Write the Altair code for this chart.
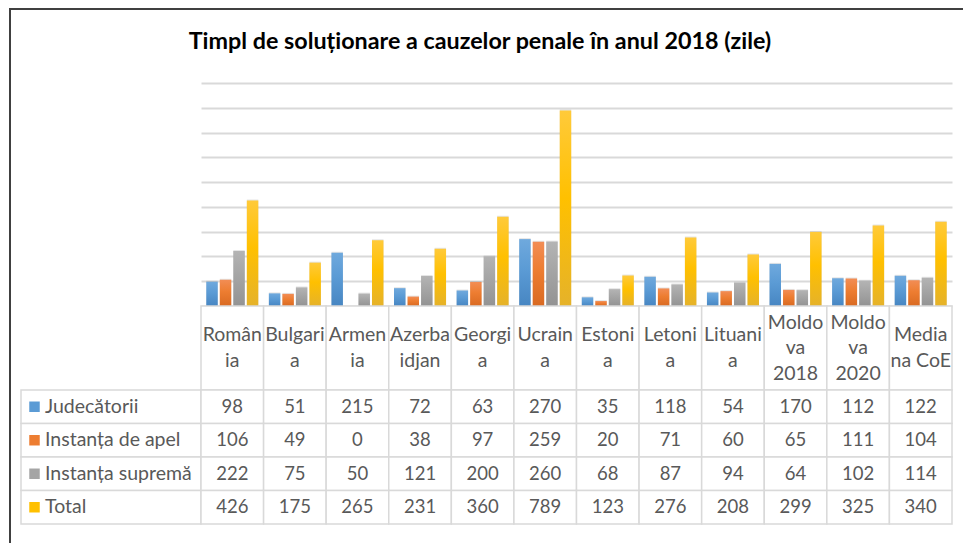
import altair as alt
import pandas as pd

title_text = "Timpl de soluționare a cauzelor penale în anul 2018 (zile)"
categories = ["România", "Bulgaria", "Armenia", "Azerbaidjan", "Georgia", "Ucraina",
              "Estonia", "Letonia", "Lituania", "Moldova 2018", "Moldova 2020", "Mediana CoE"]
header_labels = ["Român\nia", "Bulgari\na", "Armen\nia", "Azerba\nidjan", "Georgi\na", "Ucrain\na",
                 "Estoni\na", "Letoni\na", "Lituani\na", "Moldo\nva\n2018", "Moldo\nva\n2020", "Media\nna CoE"]
series = ["Judecătorii", "Instanța de apel", "Instanța supremă", "Total"]
judecatorii = [98, 51, 215, 72, 63, 270, 35, 118, 54, 170, 112, 122]
apel = [106, 49, 0, 38, 97, 259, 20, 71, 60, 65, 111, 104]
suprema = [222, 75, 50, 121, 200, 260, 68, 87, 94, 64, 102, 114]
total = [426, 175, 265, 231, 360, 789, 123, 276, 208, 299, 325, 340]
grid_values = [0, 100, 200, 300, 400, 500, 600, 700, 800, 900]

colors = ["#5B9BD5", "#ED7D31", "#A5A5A5", "#FFC000"]
grad_top = ["#6FA9DD", "#F28D55", "#B4B4B4", "#FFCA3A"]
grad_bot = ["#4786C2", "#D96A22", "#939393", "#E5B22A"]

FONT = "Lato"
TXT = "#595959"
LINE = "#D9D9D9"

values_by_series = [judecatorii, apel, suprema, total]
rows = []
for s, vals in zip(series, values_by_series):
    for c, v in zip(categories, vals):
        rows.append({"category": c, "series": s, "value": v})
df = pd.DataFrame(rows)

hrows = []
for c, lab in zip(categories, header_labels):
    parts = lab.split("\n")
    n = len(parts)
    for i, p in enumerate(parts):
        hrows.append({"category": c, "line": p, "k": i - (n - 1) / 2})
hdf = pd.DataFrame(hrows)
cdf = pd.DataFrame({"category": categories})
ldf = pd.DataFrame({"series": series})
tdf = pd.DataFrame({"title": [title_text]})

W = 751
xcat = alt.X("category:N", sort=categories, axis=None,
             scale=alt.Scale(domain=categories, paddingInner=0, paddingOuter=0))
xoff = alt.XOffset("series:N", sort=series,
                   scale=alt.Scale(domain=series, paddingInner=0.15, paddingOuter=0.39))
yval = alt.Y("value:Q", scale=alt.Scale(domain=[0, 900], nice=False),
             axis=alt.Axis(values=grid_values, grid=True, labels=False, ticks=False,
                           domain=False, title=None, gridColor=LINE, gridWidth=1.8))

# ---- bars ----
shadow = alt.Chart(df).mark_bar(fill="#000000", opacity=0.10, xOffset=1.5, yOffset=-1).encode(
    x=xcat, xOffset=xoff, y=yval)
layers = [shadow]
for i, s in enumerate(series):
    grad = alt.Gradient(
        gradient="linear",
        stops=[alt.GradientStop(color=grad_top[i], offset=0),
               alt.GradientStop(color=colors[i], offset=0.45),
               alt.GradientStop(color=grad_bot[i], offset=1)],
        x1=0, x2=0, y1=0, y2=1)
    layers.append(
        alt.Chart(df).transform_filter(alt.datum.series == s).mark_bar(fill=grad).encode(
            x=xcat, xOffset=xoff, y=yval)
    )
bars = alt.layer(*layers).properties(width=W, height=223)

# frame lines and title (placed relative to the left spacer of the first row)
frame_top = alt.Chart(tdf).mark_rule(color="#404040", strokeWidth=2).encode(
    x=alt.value(0), x2=alt.value(954), y=alt.value(-74))
frame_left = alt.Chart(tdf).mark_rule(color="#404040", strokeWidth=2).encode(
    x=alt.value(1), y=alt.value(-74), y2=alt.value(460))
title = alt.Chart(tdf).mark_text(font=FONT, fontSize=23.3, fontWeight="bold", color="#000000",
                                 align="center", baseline="middle").encode(
    x=alt.value(471), y=alt.value(-41), text="title:N")
spacer1 = alt.layer(frame_top, frame_left, title).properties(width=192, height=223)

# ---- header row ----
hcells = alt.Chart(cdf).mark_rect(fill="white", stroke=LINE, strokeWidth=1.5).encode(x=xcat)
htext = alt.Chart(hdf).mark_text(font=FONT, fontSize=19.5, color=TXT).encode(
    x=xcat,
    y=alt.Y("k:Q", axis=None, scale=alt.Scale(domain=[-42 / 25.5, 42 / 25.5], reverse=True)),
    text="line:N")
header = alt.layer(hcells, htext).properties(width=W, height=84)
spacer2 = alt.Chart(tdf).mark_rule(opacity=0).encode(
    x=alt.value(0), y=alt.value(0)).properties(width=192, height=84)

# ---- body ----
yser = alt.Y("series:N", sort=series, axis=None,
             scale=alt.Scale(domain=series, paddingInner=0, paddingOuter=0))
bcells = alt.Chart(df).mark_rect(fill="white", stroke=LINE, strokeWidth=1.5).encode(x=xcat, y=yser)
btext = alt.Chart(df).mark_text(font=FONT, fontSize=18.5, color=TXT).encode(
    x=xcat, y=yser, text="value:Q")
body = alt.layer(bcells, btext).properties(width=W, height=134)

lcells = alt.Chart(ldf).mark_rect(fill="white", stroke=LINE, strokeWidth=1.5).encode(
    x=alt.value(12), x2=alt.value(192), y=yser)
lsq = alt.Chart(ldf).mark_square(size=110, opacity=1).encode(
    x=alt.value(25.5), y=yser,
    color=alt.Color("series:N", scale=alt.Scale(domain=series, range=colors), legend=None))
ltext = alt.Chart(ldf).mark_text(font=FONT, fontSize=19.5, color=TXT, align="left").encode(
    x=alt.value(36), y=yser, text="series:N")
legend = alt.layer(lcells, lsq, ltext).properties(width=192, height=134)

chart = alt.concat(spacer1, bars, spacer2, header, legend, body,
                   columns=2, spacing=0, bounds="flush").properties(
    padding={"left": 0, "top": 0, "right": 0, "bottom": 0},
).configure_view(strokeWidth=0).resolve_scale(color="independent")

chart.save("out.html", embed_options={"renderer": "svg", "actions": False})
